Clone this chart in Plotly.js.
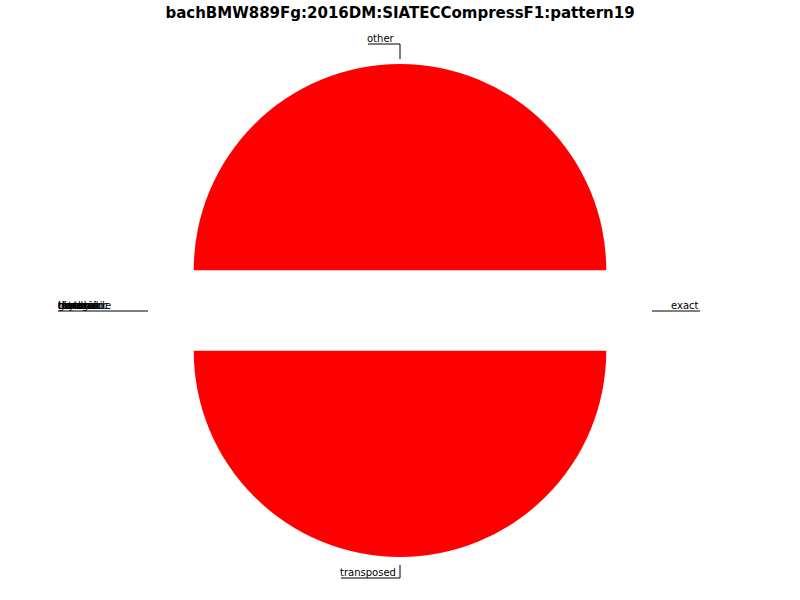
<!DOCTYPE html>
<html>
<head>
<meta charset="utf-8">
<script src="https://cdn.plot.ly/plotly-3.0.1.min.js"></script>
<style>html,body{margin:0;padding:0;background:#fff;}#chart{width:800px;height:600px;}</style>
</head>
<body>
<div id="chart"></div>
<script>
// Data
const chartTitle = "bachBMW889Fg:2016DM:SIATECCompressF1:pattern19";
const sliceLabels = ["exact", "other", "tonal", "transl", "diatonic", "chromatic", "inversion", "retrograde", "rhythmic", "general", "transposed"];
const sliceValues = [0, 1, 0, 0, 0, 0, 0, 0, 0, 0, 1];

// Layout helpers (pixel -> paper)
const W = 800, H = 600, MT = 64, MB = 43;
const PH = H - MT - MB;
const px = x => x / W;
const py = y => (H - MB - y) / PH;

const total = sliceValues.reduce((a, b) => a + b, 0);
let cum = 0;
const annotations = [];
const shapes = [];
const lineStyle = {color: "#000", width: 1};
const fnt = {family: "DejaVu Sans", size: 10, color: "#000"};
let leftDone = false;
sliceLabels.forEach((lab, i) => {
  const mid = (cum + sliceValues[i] / 2) / total * 2 * Math.PI;
  cum += sliceValues[i];
  const c = Math.cos(mid), s = Math.sin(mid);
  if (s > 0.9) { // top
    annotations.push({text: lab, x: px(400), y: py(44), xanchor: "right", yanchor: "bottom", xshift: -4});
    shapes.push({x0: px(368), x1: px(400), y0: py(44), y1: py(44)});
    shapes.push({x0: px(400), x1: px(400), y0: py(44), y1: py(59)});
  } else if (s < -0.9) { // bottom
    annotations.push({text: lab, x: px(398), y: py(578), xanchor: "right", yanchor: "bottom", xshift: -1});
    shapes.push({x0: px(341), x1: px(400), y0: py(578), y1: py(578)});
    shapes.push({x0: px(400), x1: px(400), y0: py(565), y1: py(578)});
  } else if (c > 0) { // right
    annotations.push({text: lab, x: px(700), y: py(311), xanchor: "right", yanchor: "bottom"});
    shapes.push({x0: px(652), x1: px(700), y0: py(311), y1: py(311)});
  } else { // left
    annotations.push({text: lab, x: px(58), y: py(311), xanchor: "left", yanchor: "bottom", xshift: -1});
    if (!leftDone) { shapes.push({x0: px(58), x1: px(148), y0: py(311), y1: py(311)}); leftDone = true; }
  }
});
annotations.forEach(a => { a.xref = "paper"; a.yref = "paper"; a.showarrow = false; a.font = fnt; a.borderpad = 0; a.yshift = -1; });
shapes.forEach(sh => { sh.type = "line"; sh.xref = "paper"; sh.yref = "paper"; sh.line = lineStyle; });

const trace = {
  type: "pie",
  labels: sliceLabels,
  values: sliceValues,
  sort: false,
  direction: "counterclockwise",
  rotation: 90,
  pull: sliceValues.map(v => 0.195),
  marker: {colors: sliceLabels.map(() => "#ff0000"), line: {width: 0}},
  textinfo: "none",
  hoverinfo: "label+percent",
  showlegend: false
};

const layout = {
  width: W, height: H,
  margin: {l: 0, r: 0, t: MT, b: MB},
  paper_bgcolor: "#fff",
  title: {text: "<b>" + chartTitle + "</b>", x: 0.5, xanchor: "center", y: 1 - 13 / H, yanchor: "middle", yref: "container",
          font: {family: "DejaVu Sans", size: 15, color: "#000"}},
  annotations: annotations,
  shapes: shapes,
  showlegend: false
};

Plotly.newPlot("chart", [trace], layout, {displayModeBar: false, staticPlot: true});
</script>
</body>
</html>
